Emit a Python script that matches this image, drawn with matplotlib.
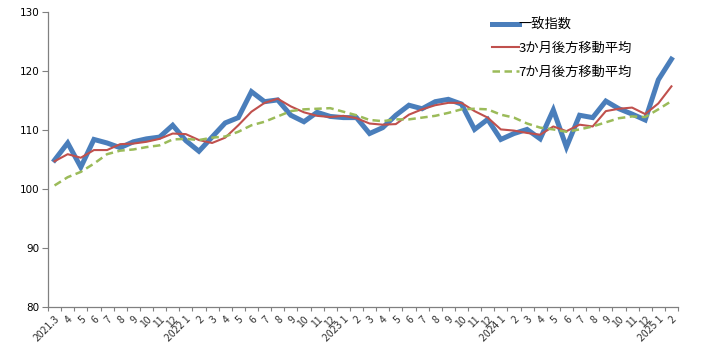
import matplotlib
matplotlib.use("Agg")
import matplotlib.pyplot as plt
import numpy as np

plt.rcParams['font.family'] = ['Noto Sans CJK JP', 'DejaVu Sans']

tick_labels = ["2021.3", "4", "5", "6", "7", "8", "9", "10", "11", "12",
               "2022 1", "2", "3", "4", "5", "6", "7", "8", "9", "10", "11", "12",
               "2023 1", "2", "3", "4", "5", "6", "7", "8", "9", "10", "11", "12",
               "2024 1", "2", "3", "4", "5", "6", "7", "8", "9", "10", "11", "12",
               "2025 1", "2"]

coincident = [104.9, 107.8, 103.7, 108.4, 107.8, 107.0, 108.0, 108.5, 108.8, 110.8,
              108.2, 106.4, 108.8, 111.2, 112.1, 116.5, 114.8, 115.1, 112.5, 111.4,
              113.0, 112.3, 112.1, 112.1, 109.4, 110.4, 112.5, 114.2, 113.6, 114.8,
              115.2, 114.4, 110.1, 111.8, 108.4, 109.4, 110.1, 108.5, 113.4, 107.1,
              112.5, 112.1, 114.9, 113.6, 112.7, 111.7, 118.5, 122.0]

ma3 = [104.7, 105.9, 105.3, 106.6, 106.6, 107.6, 107.7, 108.0, 108.5, 109.4,
       109.3, 108.3, 107.8, 108.7, 110.8, 113.1, 114.6, 115.3, 114.0, 113.0,
       112.4, 112.2, 112.4, 112.0, 111.1, 110.9, 111.0, 112.6, 113.5, 114.2,
       114.6, 114.6, 113.2, 112.1, 110.1, 109.9, 109.5, 109.2, 110.6, 109.8,
       110.9, 110.6, 113.2, 113.6, 113.8, 112.7, 114.5, 117.4]

ma7 = [100.6, 102.0, 102.9, 104.3, 105.9, 106.5, 106.7, 107.1, 107.4, 108.4,
       108.5, 108.3, 108.7, 108.9, 109.7, 110.8, 111.4, 112.3, 113.2, 113.5,
       113.6, 113.7, 113.1, 112.5, 111.7, 111.5, 111.8, 111.8, 112.1, 112.4,
       112.9, 113.5, 113.6, 113.5, 112.6, 112.1, 111.1, 110.4, 110.1, 109.7,
       110.1, 110.6, 111.3, 112.0, 112.3, 112.2, 113.5, 114.9]

series_names = ["一致指数", "3か月後方移動平均", "7か月後方移動平均"]

fig = plt.figure(figsize=(7.01, 3.57), dpi=100)
ax = fig.add_axes([48/701, 1-307/357, 630/701, 295/357])

x = np.arange(len(tick_labels))
ax.plot(x, coincident, color="#4A7EBB", lw=3.6, label=series_names[0], solid_joinstyle="miter")
ax.plot(x, ma3, color="#C0504D", lw=1.5, label=series_names[1])
ax.plot(x, ma7, color="#9BBB59", lw=1.8, ls=(0, (3, 1.8)), label=series_names[2])

ax.set_xlim(-0.5, len(tick_labels) - 0.5)
ax.set_ylim(80, 130)
ax.set_yticks(np.arange(80, 131, 10))
ax.set_xticks(np.arange(-0.5, len(tick_labels), 1.0))
ax.set_xticklabels([])
ax.set_xticks(x, minor=True)
ax.set_xticklabels(tick_labels, minor=True, rotation=45, ha="right",
                   rotation_mode="anchor", fontsize=7.5, color="#333333")
ax.tick_params(axis="x", which="minor", length=0, pad=5)
ax.tick_params(axis="x", which="major", length=3, color="#808080", width=0.8)
ax.tick_params(axis="y", length=4, color="#808080", width=0.8, labelsize=7.5, pad=2)
for lab in ax.get_yticklabels():
    lab.set_family("DejaVu Sans")

for s in ["top", "right"]:
    ax.spines[s].set_visible(False)
for s in ["left", "bottom"]:
    ax.spines[s].set_color("#808080")
    ax.spines[s].set_linewidth(0.9)

leg = ax.legend(loc="upper left", bbox_to_anchor=(0.705, 0.978), frameon=False,
                fontsize=9.5, handlelength=2.0, handletextpad=0.0,
                labelspacing=0.8, borderaxespad=0, borderpad=0)

fig.savefig("out.png", dpi=100)
